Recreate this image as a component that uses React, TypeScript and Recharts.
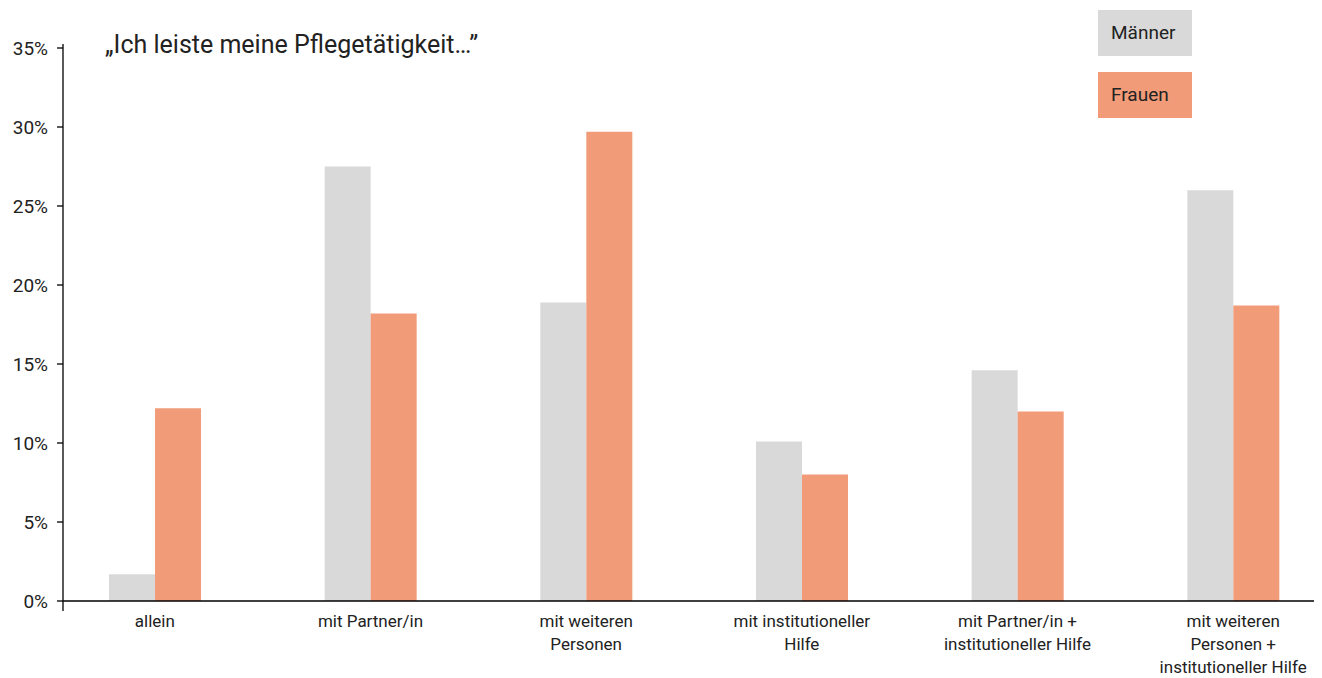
import React from "react";
import { BarChart, Bar, XAxis, YAxis } from "recharts";

const categories = [
  "allein",
  "mit Partner/in",
  "mit weiteren\nPersonen",
  "mit institutioneller\nHilfe",
  "mit Partner/in +\ninstitutioneller Hilfe",
  "mit weiteren\nPersonen +\ninstitutioneller Hilfe",
];
const maenner = [1.7, 27.5, 18.9, 10.1, 14.6, 26.0];
const frauen = [12.2, 18.2, 29.7, 8.0, 12.0, 18.7];
const yTicks = [0, 5, 10, 15, 20, 25, 30, 35];
const seriesNames = { m: "Männer", f: "Frauen" };
const title = "\u201EIch leiste meine Pflegetätigkeit\u2026\u201D";

const GRAY = "#D9D9D9";
const SALMON = "#F19B79";
const TEXT = "#222222";
const FONT = "Roboto, 'Noto Sans', sans-serif";

const data = categories.map((c, i) => ({ cat: c, m: maenner[i], f: frauen[i] }));

const XTick = (props: any) => {
  const { x, y, payload } = props;
  const lines = String(payload.value).split("\n");
  return (
    <g>
      {lines.map((l, i) => (
        <text
          key={i}
          x={x}
          y={y + 18 + i * 23}
          textAnchor="middle"
          fill={TEXT}
          fontSize={17}
          fontFamily={FONT}
        >
          {l}
        </text>
      ))}
    </g>
  );
};

const boxStyle: React.CSSProperties = {
  width: 94,
  height: 46,
  boxSizing: "border-box",
  paddingLeft: 13,
  lineHeight: "46px",
};

export default function App() {
  return (
    <div style={{ position: "relative", width: 1314, height: 670, overflow: "hidden", fontFamily: FONT }}>
      <BarChart
        width={1314}
        height={670}
        data={data}
        margin={{ top: 40, right: 0, bottom: 7, left: 0 }}
        barCategoryGap={62}
        barGap={0}
      >
        <XAxis
          dataKey="cat"
          interval={0}
          tick={<XTick />}
          tickLine={false}
          axisLine={{ stroke: "#000", strokeWidth: 1.3 }}
          height={70}
          padding={{ left: -16, right: -19 }}
        />
        <YAxis
          domain={[0, 35]}
          ticks={yTicks}
          tickFormatter={(v: number) => `${v}%`}
          width={55}
          tickSize={6}
          tickMargin={9}
          axisLine={false}
          tickLine={{ stroke: "#000", strokeWidth: 1.3 }}
          tick={{ fill: TEXT, fontSize: 19, fontFamily: FONT }}
          interval={0}
        />
        <Bar dataKey="m" name={seriesNames.m} fill={GRAY} isAnimationActive={false} />
        <Bar dataKey="f" name={seriesNames.f} fill={SALMON} isAnimationActive={false} />
      </BarChart>
      <svg style={{ position: "absolute", left: 0, top: 0, pointerEvents: "none" }} width={1314} height={670}>
        <line x1={55} x2={55} y1={36} y2={603} stroke="#000" strokeWidth={1.3} />
      </svg>
      <div style={{ position: "absolute", left: 1090, top: 2, fontSize: 19, color: TEXT }}>
        <div style={{ ...boxStyle, background: GRAY }}>{seriesNames.m}</div>
        <div style={{ ...boxStyle, background: SALMON, marginTop: 16 }}>{seriesNames.f}</div>
      </div>
      <div
        style={{
          position: "absolute",
          left: 97,
          top: 22,
          fontSize: 25,
          color: TEXT,
          whiteSpace: "nowrap",
          fontFamily: FONT,
        }}
      >
        {title}
      </div>
    </div>
  );
}
